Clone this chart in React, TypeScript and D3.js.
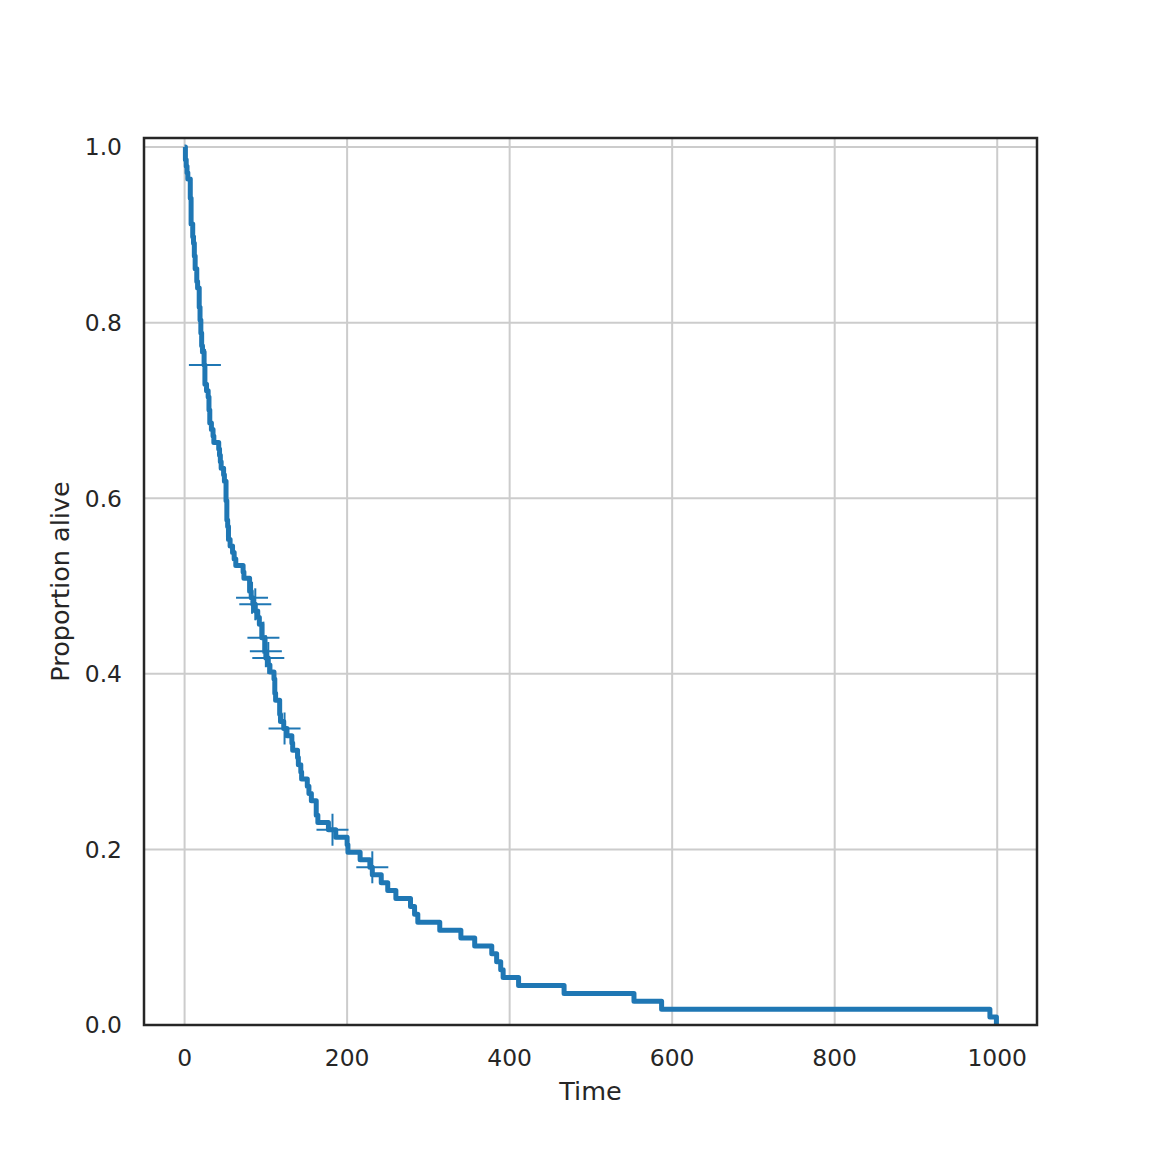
import { useRef, useLayoutEffect } from "react";
import * as d3 from "d3";

// survival times (days) and event flags (1 = died, 0 = censored)
const durations = [
  72, 411, 228, 126, 118, 10, 82, 110, 314, 100, 42, 8, 144, 25, 11,
  30, 384, 4, 54, 13, 123, 97, 153, 59, 117, 16, 151, 22, 56, 21,
  18, 139, 20, 31, 52, 287, 18, 51, 122, 27, 54, 7, 63, 392, 10,
  8, 92, 35, 117, 132, 12, 162, 3, 95,
  177, 162, 216, 553, 278, 12, 260, 200, 156, 182, 143, 105, 103, 250, 100,
  999, 112, 87, 231, 242, 991, 111, 1, 587, 389, 33, 25, 357, 467, 201, 1, 30, 44, 283, 15,
  25, 103, 21, 13, 87, 2, 20, 7, 24, 99, 8, 99, 61, 25, 95, 80, 51, 29,
  24, 18, 83, 31, 51, 90, 52, 73, 8, 36, 48, 7, 140, 186, 84, 19, 45, 80,
  52, 164, 19, 53, 15, 43, 340, 133, 111, 231, 378, 49,
];
const events = [
  1, 1, 1, 1, 1, 1, 1, 1, 1, 0, 1, 1, 1, 0, 1,
  1, 1, 1, 1, 1, 0, 0, 1, 1, 1, 1, 1, 1, 1, 1,
  1, 1, 1, 1, 1, 1, 1, 1, 1, 1, 1, 1, 1, 1, 1,
  1, 1, 1, 1, 1, 1, 1, 1, 1,
  1, 1, 1, 1, 1, 1, 1, 1, 1, 0, 1, 1, 1, 1, 1,
  1, 1, 0, 0, 1, 1, 1, 1, 1, 1, 1, 1, 1, 1, 1, 1, 1, 1, 1, 1,
  1, 0, 1, 1, 1, 1, 1, 1, 1, 1, 1, 1, 1, 1, 1, 1, 1, 1,
  1, 1, 0, 1, 1, 1, 1, 1, 1, 1, 1, 1, 1, 1, 1, 1, 1, 1,
  1, 1, 1, 1, 1, 1, 1, 1, 1, 1, 1, 1,
];

const xTicks = [0, 200, 400, 600, 800, 1000];
const yTicks = [0, 0.2, 0.4, 0.6, 0.8, 1.0];

const W = 1152;
const H = 1152;
const margin = { left: 144, right: 115, top: 138, bottom: 127 };
const BLUE = "#1f77b4";
const INK = "#262626";

interface Step { t: number; s: number; }

// Kaplan-Meier estimate from the raw observations
function kaplanMeier(dur: number[], ev: number[]) {
  const times = Array.from(new Set(dur)).sort((a, b) => a - b);
  let atRisk = dur.length;
  let s = 1;
  const steps: Step[] = [{ t: 0, s: 1 }];
  const censored: Step[] = [];
  times.forEach((t) => {
    let d = 0, c = 0;
    dur.forEach((v, i) => {
      if (v === t) ev[i] ? d++ : c++;
    });
    // censor ticks sit at the value just before that time's deaths
    for (let k = 0; k < c; k++) censored.push({ t, s });
    if (d > 0) {
      s *= 1 - d / atRisk;
      steps.push({ t, s });
    }
    atRisk -= d + c;
  });
  return { steps, censored };
}

export default function App() {
  const svgRef = useRef<SVGSVGElement | null>(null);

  useLayoutEffect(() => {
    if (!svgRef.current) return;
    const svg = d3.select(svgRef.current);
    svg.selectAll("*").remove();

    const { steps, censored } = kaplanMeier(durations, events);

    const x = d3.scaleLinear().domain([-49.95, 1048.95]).range([margin.left, W - margin.right]);
    const y = d3.scaleLinear().domain([0, 1.0103]).range([H - margin.bottom, margin.top]);

    svg.append("rect").attr("width", W).attr("height", H).attr("fill", "#fff");

    const font = "DejaVu Sans, sans-serif";

    // grid
    const grid = svg.append("g").attr("stroke", "#cccccc").attr("stroke-width", 2);
    xTicks.forEach((t) => {
      grid.append("line").attr("x1", x(t)).attr("x2", x(t)).attr("y1", margin.top).attr("y2", H - margin.bottom);
    });
    yTicks.forEach((t) => {
      grid.append("line").attr("y1", y(t)).attr("y2", y(t)).attr("x1", margin.left).attr("x2", W - margin.right);
    });

    // tick labels
    svg.append("g")
      .selectAll("text")
      .data(xTicks)
      .enter()
      .append("text")
      .attr("x", (d) => x(d))
      .attr("y", H - margin.bottom + 41)
      .attr("text-anchor", "middle")
      .attr("font-family", font)
      .attr("font-size", 23.4)
      .attr("fill", INK)
      .text((d) => d3.format("d")(d));

    svg.append("g")
      .selectAll("text")
      .data(yTicks)
      .enter()
      .append("text")
      .attr("x", margin.left - 22)
      .attr("y", (d) => y(d))
      .attr("dy", "0.36em")
      .attr("text-anchor", "end")
      .attr("font-family", font)
      .attr("font-size", 23.4)
      .attr("fill", INK)
      .text((d) => d3.format(".1f")(d));

    // axis labels
    svg.append("text")
      .attr("x", (margin.left + W - margin.right) / 2)
      .attr("y", H - margin.bottom + 75)
      .attr("text-anchor", "middle")
      .attr("font-family", font)
      .attr("font-size", 25.5)
      .attr("fill", INK)
      .text("Time");

    svg.append("text")
      .attr("transform", `translate(69, ${(margin.top + H - margin.bottom) / 2}) rotate(-90)`)
      .attr("text-anchor", "middle")
      .attr("font-family", font)
      .attr("font-size", 25.5)
      .attr("fill", INK)
      .text("Proportion alive");

    // survival curve
    const line = d3
      .line<Step>()
      .x((d) => x(d.t))
      .y((d) => y(d.s))
      .curve(d3.curveStepAfter);

    svg.append("path")
      .datum(steps)
      .attr("d", line)
      .attr("fill", "none")
      .attr("stroke", BLUE)
      .attr("stroke-width", 5)
      .attr("stroke-linejoin", "round");

    // censor marks
    const m = 16;
    const marks = svg.append("g").attr("stroke", BLUE).attr("stroke-width", 2);
    censored.forEach((c) => {
      marks.append("line").attr("x1", x(c.t) - m).attr("x2", x(c.t) + m).attr("y1", y(c.s)).attr("y2", y(c.s));
      marks.append("line").attr("x1", x(c.t)).attr("x2", x(c.t)).attr("y1", y(c.s) - m).attr("y2", y(c.s) + m);
    });

    // frame
    svg.append("rect")
      .attr("x", margin.left)
      .attr("y", margin.top)
      .attr("width", W - margin.left - margin.right)
      .attr("height", H - margin.top - margin.bottom)
      .attr("fill", "none")
      .attr("stroke", INK)
      .attr("stroke-width", 2.5);
  }, []);

  return (
    <svg
      ref={svgRef}
      width={W}
      height={H}
      style={{ position: "absolute", left: 0, top: 0 }}
    />
  );
}
